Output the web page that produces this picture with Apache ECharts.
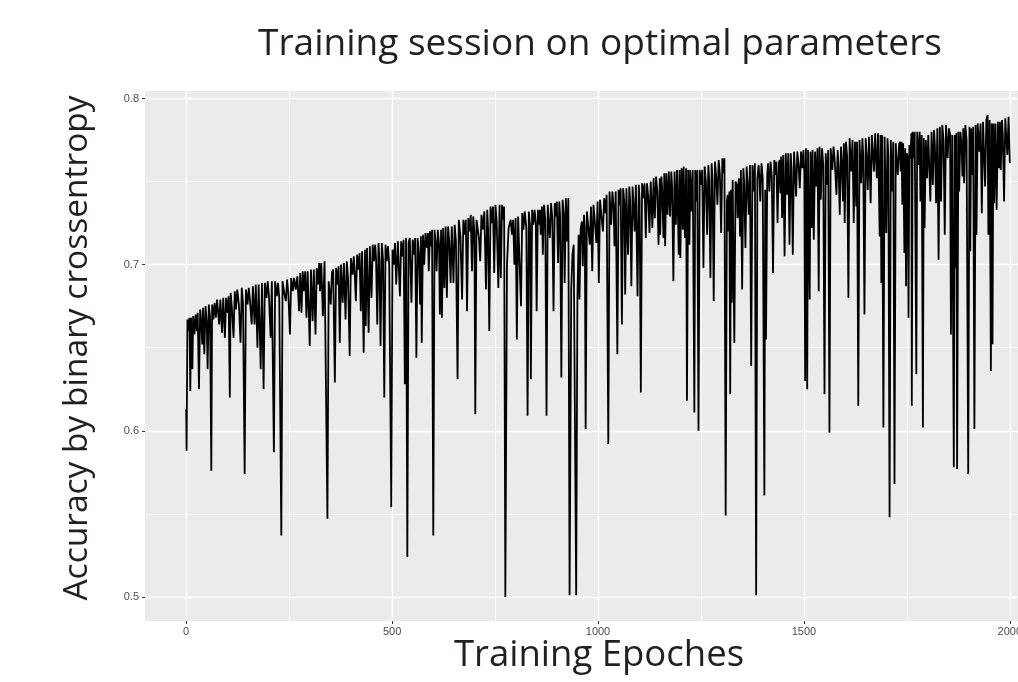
<!DOCTYPE html>
<html>
<head>
<meta charset="utf-8">
<script src="https://cdn.jsdelivr.net/npm/echarts@6/dist/echarts.min.js"></script>
<style>
  html, body { margin: 0; padding: 0; background: #fff; }
  #chart { width: 1018px; height: 682px; }
</style>
</head>
<body>
<div id="chart"></div>
<script>
  // axis breaks
  var epochBreaks = [0, 500, 1000, 1500, 2000]
  var epochMinorBreaks = [250, 750, 1250, 1750]
  var accBreaks = [0.5, 0.6, 0.7, 0.8]
  var accMinorBreaks = [0.55, 0.65, 0.75]

  // [epoch, accuracy]
  var trainingAccuracy = [
    [0,.613],[1,.588],[3,.667],[6,.660],[8,.668],[10,.624],[12,.668],[15,.637],[17,.669],[20,.658],
    [23,.670],[26,.660],[28,.671],[31,.625],[34,.673],[37,.664],[39,.652],[41,.674],[44,.646],[47,.675],
    [50,.665],[52,.637],[55,.676],[58,.668],[61,.576],[63,.676],[66,.667],[69,.677],[72,.668],[75,.679],
    [78,.670],[80,.664],[83,.679],[87,.659],[90,.680],[94,.656],[97,.680],[101,.671],[103,.681],[106,.620],
    [108,.683],[111,.674],[115,.656],[118,.684],[121,.673],[124,.685],[128,.676],[132,.653],[135,.686],[138,.677],
    [142,.574],[145,.685],[149,.676],[152,.686],[155,.678],[159,.664],[162,.687],[166,.664],[169,.688],[173,.650],
    [176,.688],[181,.637],[184,.689],[188,.625],[191,.689],[195,.680],[198,.690],[201,.681],[205,.656],[208,.690],
    [213,.587],[216,.690],[220,.681],[223,.689],[226,.680],[231,.537],[234,.690],[238,.683],[242,.678],[245,.691],
    [248,.683],[252,.658],[255,.692],[259,.684],[262,.692],[266,.685],[270,.693],[274,.672],
    [277,.695],[280,.671],[283,.696],[286,.684],[289,.696],[292,.668],[295,.696],[300,.651],[303,.697],[307,.666],
    [310,.697],[314,.658],[317,.698],[320,.688],[323,.701],[325,.684],[328,.701],[332,.669],[336,.702],[339,.702],
    [343,.547],[346,.690],[351,.676],[354,.695],[357,.697],[361,.629],[364,.698],[368,.688],[370,.699],[373,.653],
    [376,.700],[380,.677],[383,.701],[387,.667],[390,.702],[393,.692],[397,.645],[400,.704],[404,.694],[407,.705],
    [409,.696],[412,.678],[415,.706],[418,.697],[421,.707],[424,.672],[427,.708],[431,.647],[434,.709],[436,.663],
    [439,.710],[443,.659],[446,.711],[450,.680],[453,.712],[456,.702],[459,.712],[461,.704],[464,.664],[467,.713],
    [469,.704],[472,.651],[475,.713],[478,.703],[481,.620],[484,.712],[487,.702],[490,.711],[493,.700],[498,.554],
    [501,.709],[504,.700],[507,.713],[510,.688],[514,.714],[519,.681],[522,.714],[525,.705],[528,.715],[531,.628],
    [534,.716],[537,.524],[540,.713],[543,.716],[547,.677],[550,.715],[553,.706],[556,.716],[559,.644],[562,.716],
    [565,.707],
    [568,.676],[570,.717],[572,.653],[575,.718],[578,.700],[581,.719],[585,.710],[587,.719],[589,.696],[592,.720],
    [595,.711],[597,.721],[600,.537],[603,.721],[606,.712],[608,.696],[611,.721],[614,.712],[616,.670],[619,.721],
    [621,.668],[624,.722],[627,.686],[630,.723],[633,.680],[636,.723],[639,.713],[642,.689],[645,.723],[649,.689],
    [652,.724],[655,.714],[659,.631],[662,.727],[666,.717],[670,.679],[673,.727],[676,.718],[679,.727],[682,.672],
    [685,.728],[688,.720],[691,.730],[694,.696],[697,.729],[700,.719],[702,.610],[705,.727],[708,.726],[711,.716],
    [714,.702],[717,.730],[720,.721],[724,.732],[728,.685],[731,.733],[733,.722],[736,.660],[739,.735],[742,.725],
    [745,.735],[748,.695],[751,.736],[754,.726],[758,.686],[761,.736],[764,.692],[767,.736],[770,.727],[772,.735],
    [775,.500],[779,.700],[783,.722],[788,.727],[791,.718],[794,.727],[797,.700],[800,.728],[803,.655],[806,.729],
    [809,.730],[813,.675],[816,.731],[819,.721],[822,.732],[826,.722],[829,.609],[832,.732],[835,.723],[837,.631],
    [840,.733],[843,.724],[846,.733],[849,.725],[851,.672],[854,.733],[857,.724],
    [859,.733],[861,.718],[864,.735],[866,.706],[869,.736],[872,.727],[875,.609],[878,.736],[880,.727],[883,.716],
    [886,.737],[889,.728],[892,.672],[895,.737],[898,.729],[900,.738],[903,.701],[906,.738],[908,.729],[911,.632],
    [914,.739],[917,.730],[919,.689],[922,.740],[925,.714],[928,.740],[931,.501],[935,.685],[938,.706],[941,.712],
    [944,.713],[947,.501],[950,.680],[953,.718],[955,.679],[958,.722],[961,.726],[963,.699],[966,.730],[968,.722],
    [970,.601],[973,.732],[976,.724],[980,.712],[983,.735],[986,.696],[989,.736],[992,.727],[996,.713],[999,.738],
    [1002,.689],[1005,.739],[1008,.730],[1012,.720],[1015,.740],[1018,.731],[1021,.742],[1025,.592],[1028,.744],[1032,.724],
    [1035,.744],[1038,.735],[1040,.711],[1043,.744],[1047,.646],[1050,.745],[1053,.736],[1055,.746],[1058,.664],[1061,.746],
    [1064,.737],[1066,.682],[1069,.746],[1073,.706],[1076,.747],[1078,.738],[1081,.687],[1084,.747],[1086,.738],[1089,.720],
    [1092,.748],[1096,.681],[1099,.748],[1101,.739],[1104,.623],[1107,.749],[1110,.740],[1113,.749],[1116,.716],[1119,.749],
    [1122,.741],[1125,.719],[1128,.750],[1132,.722],[1135,.752],[1138,.728],[1141,.753],[1144,.744],[1147,.712],[1150,.752],
    [1151,.718],[1154,.753],[1156,.744],[1159,.716],[1161,.755],[1163,.711],[1166,.755],[1169,.730],[1172,.756],[1175,.729],
    [1178,.756],[1180,.747],[1183,.690],[1186,.756],[1189,.724],[1192,.757],[1196,.706],[1198,.757],[1200,.704],[1203,.758],
    [1206,.721],[1208,.759],[1211,.716],[1214,.758],[1216,.618],[1219,.757],[1222,.712],[1224,.757],[1227,.732],[1230,.757],
    [1234,.611],[1236,.757],[1238,.738],[1241,.757],[1244,.600],[1247,.757],[1250,.748],[1253,.757],[1256,.698],[1259,.759],
    [1262,.750],[1265,.718],[1268,.760],[1270,.751],[1273,.692],[1276,.761],[1278,.752],[1281,.678],[1284,.762],[1287,.753],
    [1290,.736],[1293,.763],[1296,.754],[1299,.719],[1302,.764],[1305,.755],[1307,.764],[1310,.549],[1313,.738],[1315,.742],
    [1317,.720],[1319,.744],[1321,.622],[1323,.745],[1325,.677],[1327,.751],[1331,.653],[1334,.750],[1337,.748],[1339,.728],
    [1342,.752],[1345,.717],[1347,.757],[1350,.685],[1353,.758],[1355,.749],[1358,.710],[1361,.759],[1363,.750],[1366,.730],
    [1369,.760],[1372,.639],[1375,.760],[1378,.744],[1381,.761],[1384,.501],[1387,.752],[1390,.760],[1392,.752],[1394,.738],
    [1397,.761],[1400,.752],[1404,.561],[1406,.745],[1408,.655],[1411,.754],[1413,.761],[1416,.744],[1419,.762],[1422,.753],
    [1425,.695],[1428,.763],[1431,.754],[1433,.762],[1436,.725],[1439,.761],
    [1441,.763],[1443,.743],[1445,.765],[1447,.728],[1450,.766],[1453,.705],[1456,.767],[1459,.742],[1462,.767],[1465,.712],
    [1468,.767],[1470,.758],[1473,.706],[1476,.768],[1478,.759],[1481,.741],[1484,.768],[1487,.760],[1490,.746],[1493,.768],
    [1496,.758],[1499,.769],[1501,.755],[1503,.630],[1505,.770],[1508,.625],[1510,.769],[1512,.720],[1514,.679],[1516,.768],
    [1519,.722],[1521,.769],[1524,.715],[1527,.768],[1530,.747],[1533,.770],[1536,.684],[1538,.771],[1541,.739],[1544,.770],
    [1547,.760],[1550,.622],[1553,.767],[1556,.748],[1559,.769],[1562,.599],[1565,.770],[1569,.757],[1572,.771],[1575,.762],
    [1579,.742],[1582,.769],[1584,.760],[1587,.730],[1590,.771],[1592,.762],[1595,.738],[1597,.773],[1599,.725],[1602,.774],
    [1605,.765],[1608,.680],[1611,.776],[1615,.756],[1618,.775],[1621,.725],[1624,.774],[1627,.735],[1629,.774],[1632,.615],
    [1635,.775],[1639,.749],[1642,.776],[1644,.766],[1647,.670],[1650,.776],[1652,.767],[1655,.745],[1658,.777],[1662,.737],
    [1665,.778],[1667,.779],[1670,.756],[1673,.779],[1677,.752],[1680,.779],[1684,.717],[1686,.778],[1688,.689],[1690,.778],
    [1693,.602],[1696,.777],[1700,.719],[1703,.776],[1705,.766],[1708,.548],[1711,.775],[1714,.744],[1717,.774],[1720,.568],
    [1723,.773],[1725,.764],[1728,.754],[1731,.772],
    [1733,.774],[1735,.756],[1737,.774],[1739,.736],[1741,.773],[1744,.707],[1746,.770],[1748,.687],[1750,.767],[1752,.765],
    [1754,.668],[1756,.772],[1759,.764],[1761,.779],[1762,.615],[1764,.780],[1766,.764],[1769,.780],[1773,.634],[1775,.780],
    [1778,.760],[1781,.780],[1783,.738],[1786,.778],[1789,.602],[1791,.776],[1793,.722],[1796,.775],[1799,.752],[1802,.778],
    [1804,.779],[1807,.738],[1810,.780],[1813,.748],[1816,.781],[1818,.772],[1821,.737],[1824,.782],[1827,.703],[1830,.783],
    [1833,.738],[1836,.784],[1839,.775],[1842,.718],[1845,.784],[1849,.764],[1852,.782],[1855,.778],[1857,.658],[1860,.778],
    [1864,.578],[1866,.778],[1868,.698],[1870,.779],[1872,.577],[1875,.780],[1877,.744],[1880,.780],[1883,.771],[1885,.753],
    [1887,.782],[1889,.749],[1892,.784],[1895,.775],[1899,.574],[1902,.783],[1904,.708],[1906,.782],[1909,.754],[1911,.783],
    [1914,.601],[1917,.784],[1919,.718],[1922,.785],[1926,.768],[1929,.785],[1932,.731],[1935,.786],[1938,.786],[1940,.747],
    [1943,.787],[1946,.790],[1948,.718],[1951,.787],[1954,.636],[1956,.785],[1958,.652],[1960,.785],[1962,.737],[1965,.785],
    [1968,.733],[1971,.786],[1974,.758],[1976,.786],[1978,.757],[1981,.787],[1983,.778],[1986,.738],[1989,.788],[1991,.779],
    [1994,.766],[1997,.789],[1999,.790],[2000,.761]
  ]

  var chartTitle = 'Training session on optimal parameters'
  var xTitle = 'Training Epoches'
  var yTitle = 'Accuracy by binary crossentropy'

  var myChart = echarts.init(document.getElementById('chart'))

  var minorLines = epochMinorBreaks.map(function (v) { return { xAxis: v } })
    .concat(accMinorBreaks.map(function (v) { return { yAxis: v } }))

  var titleFont = '"Open Sans", "DejaVu Sans", sans-serif'

  myChart.setOption({
    animation: false,
    backgroundColor: '#ffffff',
    grid: {
      left: 145,
      right: -33,
      top: 91,
      bottom: 61,
      show: true,
      backgroundColor: '#EBEBEB',
      borderWidth: 0,
      outerBoundsMode: 'none'
    },
    xAxis: {
      type: 'value',
      min: -100,
      max: 2100,
      axisLine: { show: false, onZero: false },
      axisTick: {
        show: true,
        length: 3,
        customValues: epochBreaks,
        lineStyle: { color: '#333333', width: 1 }
      },
      axisLabel: {
        customValues: epochBreaks,
        margin: 5,
        color: '#4D4D4D',
        fontSize: 11,
        fontFamily: 'Liberation Sans',
        formatter: function (v) { return String(v) }
      },
      splitLine: { show: true, lineStyle: { color: '#ffffff', width: 1.4 } },
      minorSplitLine: { show: false }
    },
    yAxis: {
      type: 'value',
      min: 0.4855,
      max: 0.8045,
      axisLine: { show: false, onZero: false },
      axisTick: {
        show: true,
        length: 3,
        customValues: accBreaks,
        lineStyle: { color: '#333333', width: 1 }
      },
      axisLabel: {
        customValues: accBreaks,
        margin: 6,
        color: '#4D4D4D',
        fontSize: 11,
        fontFamily: 'Liberation Sans',
        formatter: function (v) { return v.toFixed(1) }
      },
      splitLine: { show: true, lineStyle: { color: '#ffffff', width: 1.4 } },
      minorSplitLine: { show: false }
    },
    graphic: [
      {
        type: 'text', x: 600, y: 44,
        style: { text: chartTitle, fontFamily: titleFont, fontSize: 37, fill: '#231F20', align: 'center', verticalAlign: 'middle' }
      },
      {
        type: 'text', x: 599, y: 656,
        style: { text: xTitle, fontFamily: titleFont, fontSize: 36.5, fill: '#231F20', align: 'center', verticalAlign: 'middle' }
      },
      {
        type: 'text', x: 77, y: 348, rotation: Math.PI / 2,
        style: { text: yTitle, fontFamily: titleFont, fontSize: 33.5, fill: '#231F20', align: 'center', verticalAlign: 'middle' }
      }
    ],
    series: [
      {
        type: 'line',
        data: trainingAccuracy,
        symbol: 'none',
        showSymbol: false,
        z: 3,
        lineStyle: { color: '#000000', width: 1.8 },
        emphasis: { disabled: true },
        markLine: {
          silent: true,
          symbol: 'none',
          z: 1,
          label: { show: false },
          emphasis: { disabled: true },
          lineStyle: { color: '#ffffff', width: 0.7, type: 'solid' },
          data: minorLines
        }
      }
    ]
  })
</script>
</body>
</html>
